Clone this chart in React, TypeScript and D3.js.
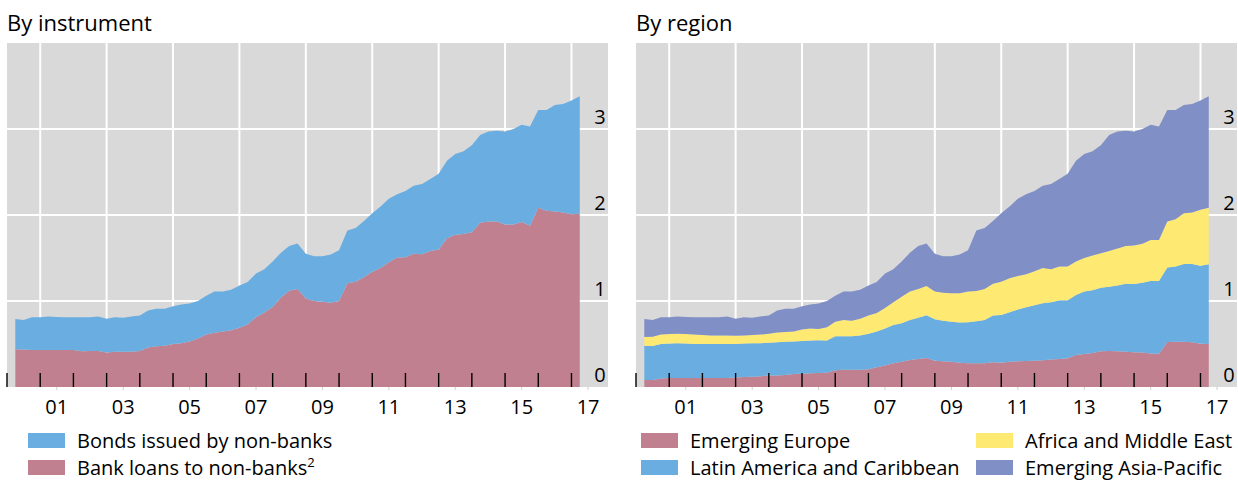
import React from "react";
import * as d3 from "d3";

// Quarterly observations, 2000 Q1 .. 2017 Q1 (plotted at quarter end)
const firstQuarterEnd = 2000.25;
const quarterStep = 0.25;

// Left panel: by instrument (USD trn)
const bankLoans = [
  0.44, 0.435, 0.43, 0.43, 0.43, 0.43, 0.43, 0.43, 0.415, 0.42, 0.42, 0.40, 0.41, 0.41, 0.41, 0.42,
  0.46, 0.475, 0.48, 0.50, 0.51, 0.53, 0.565, 0.61, 0.63, 0.645, 0.66, 0.69, 0.73, 0.81, 0.865, 0.93,
  1.04, 1.12, 1.14, 1.03, 1.0, 0.99, 0.98, 1.0, 1.205, 1.225, 1.275, 1.34, 1.385, 1.45, 1.505, 1.51,
  1.55, 1.545, 1.58, 1.60, 1.73, 1.77, 1.78, 1.80, 1.91, 1.925, 1.925, 1.89, 1.89, 1.92, 1.875, 2.085,
  2.05, 2.04, 2.03, 2.01, 2.015,
];
const bonds = [
  0.35, 0.345, 0.38, 0.38, 0.39, 0.385, 0.38, 0.38, 0.395, 0.39, 0.40, 0.395, 0.40, 0.395, 0.41, 0.41,
  0.43, 0.435, 0.43, 0.44, 0.45, 0.44, 0.435, 0.45, 0.48, 0.465, 0.47, 0.49, 0.49, 0.51, 0.505, 0.53,
  0.52, 0.52, 0.53, 0.52, 0.52, 0.53, 0.56, 0.59, 0.615, 0.625, 0.655, 0.68, 0.715, 0.74, 0.735, 0.77,
  0.79, 0.815, 0.84, 0.88, 0.90, 0.94, 0.96, 1.01, 1.02, 1.045, 1.055, 1.08, 1.11, 1.13, 1.155, 1.135,
  1.17, 1.24, 1.26, 1.32, 1.365,
];

// Right panel: by region (USD trn)
const emergingEurope = [
  0.08, 0.08, 0.10, 0.105, 0.105, 0.105, 0.105, 0.105, 0.105, 0.105, 0.105, 0.11, 0.115, 0.12, 0.125, 0.135,
  0.135, 0.14, 0.15, 0.155, 0.16, 0.163, 0.167, 0.194, 0.20, 0.20, 0.20, 0.205, 0.23, 0.25, 0.275, 0.295,
  0.314, 0.326, 0.337, 0.306, 0.298, 0.295, 0.283, 0.275, 0.275, 0.275, 0.287, 0.283, 0.295, 0.298, 0.302, 0.306,
  0.31, 0.32, 0.326, 0.333, 0.372, 0.384, 0.395, 0.415, 0.42, 0.415, 0.41, 0.403, 0.40, 0.39, 0.388, 0.523,
  0.527, 0.527, 0.52, 0.504, 0.50,
];
const latinAmerica = [
  0.40, 0.397, 0.40, 0.40, 0.405, 0.40, 0.395, 0.395, 0.395, 0.395, 0.395, 0.39, 0.39, 0.39, 0.385, 0.38,
  0.385, 0.385, 0.38, 0.38, 0.38, 0.382, 0.373, 0.396, 0.39, 0.39, 0.40, 0.415, 0.415, 0.43, 0.445, 0.445,
  0.466, 0.479, 0.498, 0.481, 0.472, 0.465, 0.467, 0.477, 0.489, 0.505, 0.543, 0.554, 0.575, 0.602, 0.624, 0.644,
  0.663, 0.665, 0.684, 0.677, 0.698, 0.726, 0.73, 0.74, 0.745, 0.765, 0.79, 0.795, 0.813, 0.842, 0.844, 0.867,
  0.873, 0.903, 0.91, 0.906, 0.926,
];
const africaMiddleEast = [
  0.10, 0.108, 0.11, 0.11, 0.11, 0.11, 0.11, 0.105, 0.10, 0.10, 0.098, 0.097, 0.095, 0.095, 0.10, 0.105,
  0.115, 0.115, 0.115, 0.135, 0.14, 0.13, 0.155, 0.17, 0.19, 0.18, 0.195, 0.21, 0.215, 0.24, 0.265, 0.31,
  0.33, 0.335, 0.34, 0.323, 0.325, 0.33, 0.34, 0.358, 0.351, 0.36, 0.37, 0.388, 0.395, 0.39, 0.384, 0.395,
  0.412, 0.385, 0.39, 0.39, 0.39, 0.39, 0.405, 0.40, 0.415, 0.43, 0.44, 0.447, 0.452, 0.478, 0.478, 0.535,
  0.55, 0.59, 0.60, 0.65, 0.659,
];
const asiaPacific = [
  0.21, 0.195, 0.20, 0.195, 0.20, 0.20, 0.20, 0.205, 0.21, 0.21, 0.222, 0.198, 0.21, 0.20, 0.21, 0.21,
  0.255, 0.27, 0.265, 0.27, 0.28, 0.295, 0.305, 0.30, 0.33, 0.34, 0.335, 0.35, 0.36, 0.40, 0.385, 0.41,
  0.45, 0.50, 0.495, 0.44, 0.425, 0.43, 0.45, 0.48, 0.705, 0.71, 0.73, 0.795, 0.835, 0.90, 0.93, 0.935,
  0.955, 0.99, 1.02, 1.08, 1.17, 1.21, 1.21, 1.255, 1.35, 1.36, 1.34, 1.325, 1.335, 1.34, 1.32, 1.295,
  1.27, 1.26, 1.26, 1.27, 1.295,
];

const yTicks = [0, 1, 2, 3];
const xLabelYears = [2001, 2003, 2005, 2007, 2009, 2011, 2013, 2015, 2017];
const xTickYears = d3.range(2000, 2018);

const COLORS = {
  blue: "#6aade0",
  pink: "#c1808f",
  yellow: "#feea73",
  purple: "#808fc5",
  bg: "#d9d9d9",
};

const FONT = "'Open Sans', 'Noto Sans', sans-serif";

type Series = { name: string; values: number[]; color: string };

const W = 1238;
const H = 481;
const PLOT_TOP = 43;
const PLOT_BOTTOM = 387;
const PLOT_W = 601;

function Panel({ left, title, series }: { left: number; title: string; series: Series[] }) {
  const x = d3.scaleLinear().domain([2000, 2018.1]).range([left, left + PLOT_W]);
  const y = d3.scaleLinear().domain([0, 4]).range([PLOT_BOTTOM, PLOT_TOP]);
  const n = series[0].values.length;
  const rows = d3.range(n).map((i) => {
    const r: Record<string, number> = { t: firstQuarterEnd + quarterStep * i };
    series.forEach((s) => (r[s.name] = s.values[i]));
    return r;
  });
  const stacked = d3.stack<Record<string, number>>().keys(series.map((s) => s.name))(rows);
  const area = d3
    .area<d3.SeriesPoint<Record<string, number>>>()
    .x((d) => x(d.data.t))
    .y0((d) => y(d[0]))
    .y1((d) => y(d[1]));

  return (
    <g>
      <text x={left} y={31} fontSize={22} fontFamily={FONT} fill="#000">
        {title}
      </text>
      <rect x={left} y={PLOT_TOP} width={PLOT_W} height={PLOT_BOTTOM - PLOT_TOP} fill={COLORS.bg} />
      {yTicks.slice(1).map((v) => (
        <line key={"h" + v} x1={left} x2={left + PLOT_W} y1={y(v)} y2={y(v)} stroke="#fff" strokeWidth={2} />
      ))}
      {xLabelYears.map((yr) => (
        <line key={"v" + yr} x1={x(yr)} x2={x(yr)} y1={PLOT_TOP} y2={PLOT_BOTTOM} stroke="#fff" strokeWidth={2} />
      ))}
      {stacked.map((layer, i) => (
        <path key={layer.key} d={area(layer) || ""} fill={series[i].color} />
      ))}
      {xTickYears.map((yr) => (
        <line key={"t" + yr} x1={x(yr)} x2={x(yr)} y1={PLOT_BOTTOM - 14} y2={PLOT_BOTTOM} stroke="#000" strokeWidth={1.4} />
      ))}
      {xLabelYears.map((yr) => (
        <line key={"m" + yr} x1={x(yr + 0.5)} x2={x(yr + 0.5)} y1={PLOT_BOTTOM} y2={PLOT_BOTTOM + 3} stroke="#d0d0d0" strokeWidth={1} />
      ))}
      {xLabelYears.map((yr) => (
        <text key={"l" + yr} x={x(yr + 0.5)} y={414} fontSize={20} fontFamily={FONT} textAnchor="middle" fill="#000">
          {String(yr % 100).padStart(2, "0")}
        </text>
      ))}
      {yTicks.map((v) => (
        <text key={"y" + v} x={left + 593} y={y(v) - 5.5} fontSize={20} fontFamily={FONT} textAnchor="middle" fill="#000">
          {v}
        </text>
      ))}
    </g>
  );
}

function LegendItem({ x, y, color, label, sup }: { x: number; y: number; color: string; label: string; sup?: string }) {
  return (
    <g>
      <rect x={x} y={y} width={37} height={15} fill={color} />
      <text x={x + 49} y={y + 14.5} fontSize={20} fontFamily={FONT} fill="#000">
        {label}
        {sup ? (
          <tspan fontSize={13} dy={-8}>
            {sup}
          </tspan>
        ) : null}
      </text>
    </g>
  );
}

export default function App() {
  const instrumentSeries: Series[] = [
    { name: "Bank loans to non-banks", values: bankLoans, color: COLORS.pink },
    { name: "Bonds issued by non-banks", values: bonds, color: COLORS.blue },
  ];
  const regionSeries: Series[] = [
    { name: "Emerging Europe", values: emergingEurope, color: COLORS.pink },
    { name: "Latin America and Caribbean", values: latinAmerica, color: COLORS.blue },
    { name: "Africa and Middle East", values: africaMiddleEast, color: COLORS.yellow },
    { name: "Emerging Asia-Pacific", values: asiaPacific, color: COLORS.purple },
  ];
  return (
    <svg width={W} height={H} style={{ position: "absolute", left: 0, top: 0, background: "#fff" }}>
      <Panel left={7} title="By instrument" series={instrumentSeries} />
      <Panel left={636} title="By region" series={regionSeries} />
      <LegendItem x={28} y={433} color={COLORS.blue} label="Bonds issued by non-banks" />
      <LegendItem x={28} y={460} color={COLORS.pink} label="Bank loans to non-banks" sup="2" />
      <LegendItem x={641} y={433} color={COLORS.pink} label="Emerging Europe" />
      <LegendItem x={641} y={460} color={COLORS.blue} label="Latin America and Caribbean" />
      <LegendItem x={976} y={433} color={COLORS.yellow} label="Africa and Middle East" />
      <LegendItem x={976} y={460} color={COLORS.purple} label="Emerging Asia-Pacific" />
    </svg>
  );
}
